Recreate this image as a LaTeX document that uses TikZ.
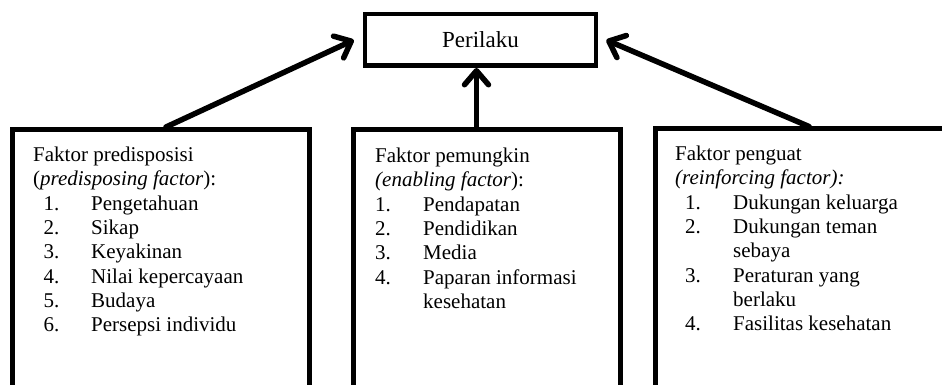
\documentclass[tikz,border=0pt]{standalone}
\usepackage{fontspec}
\setmainfont{Liberation Serif}
\usetikzlibrary{arrows.meta}
\begin{document}
\begin{tikzpicture}[x=1pt,y=-1pt,
  frame/.style={draw=black,line width=5pt,fill=white,rectangle,inner sep=0pt},
  txt/.style={anchor=base west,inner sep=0pt,font=\fontsize{21}{24.3}\selectfont},
  arr/.style={draw=black,line width=5.5pt,line cap=round,
    -{Straight Barb[length=14pt,width=24pt,line cap=round,line join=round]}}]
\useasboundingbox (0,0) rectangle (942,385);
\clip (0,0) rectangle (942,385);

% central box
\node[frame,line width=4.5pt,minimum width=231pt,minimum height=51.5pt,
  font=\fontsize{23}{27}\selectfont] (beh) at (480.5,40) {Perilaku};

% three factor boxes, running off the bottom (and the right) edge
\node[frame,anchor=north west,minimum width=297pt,minimum height=300pt] (pre) at (10,127) {};
\node[frame,anchor=north west,minimum width=267pt,minimum height=300pt] (ena) at (350.5,127) {};
\node[frame,anchor=north west,minimum width=340pt,minimum height=300pt] (rei) at (652.5,126.5) {};

% connectors
\draw[arr] ([xshift=5pt]pre.north) -- ([xshift=-9pt]beh.west);
\draw[arr] ([xshift=-10pt]ena.north) -- ([xshift=-4pt]beh.south);
\draw[arr] ([xshift=-16pt]rei.north) -- ([xshift=8pt]beh.east);

% predisposing factors
\node[txt] (p0) at (33,161.5) {Faktor predisposisi};
\node[txt] (p1) at (33,185.8) {(\textit{predisposing factor}):};
\node[txt] (p2n) at (43.5,210.1) {1.}; \node[txt] (p2) at (91,210.1) {Pengetahuan};
\node[txt] (p3n) at (43.5,234.4) {2.}; \node[txt] (p3) at (91,234.4) {Sikap};
\node[txt] (p4n) at (43.5,258.7) {3.}; \node[txt] (p4) at (91,258.7) {Keyakinan};
\node[txt] (p5n) at (43.5,283.0) {4.}; \node[txt] (p5) at (91,283.0) {Nilai kepercayaan};
\node[txt] (p6n) at (43.5,307.3) {5.}; \node[txt] (p6) at (91,307.3) {Budaya};
\node[txt] (p7n) at (43.5,331.6) {6.}; \node[txt] (p7) at (91,331.6) {Persepsi individu};

% enabling factors
\node[txt] (e0) at (375,162.5) {Faktor pemungkin};
\node[txt] (e1) at (375,186.8) {{\itshape (enabling factor}):};
\node[txt] (e2n) at (375,211.1) {1.}; \node[txt] (e2) at (423,211.1) {Pendapatan};
\node[txt] (e3n) at (375,235.4) {2.}; \node[txt] (e3) at (423,235.4) {Pendidikan};
\node[txt] (e4n) at (375,259.7) {3.}; \node[txt] (e4) at (423,259.7) {Media};
\node[txt] (e5n) at (375,284.0) {4.}; \node[txt] (e5) at (423,284.0) {Paparan informasi};
\node[txt] (e6) at (423,308.3) {kesehatan};

% reinforcing factors
\node[txt] (r0) at (675,160.5) {Faktor penguat};
\node[txt] (r1) at (675,184.8) {\textit{(reinforcing factor):}};
\node[txt] (r2n) at (685,209.1) {1.}; \node[txt] (r2) at (733,209.1) {Dukungan keluarga};
\node[txt] (r3n) at (685,233.4) {2.}; \node[txt] (r3) at (733,233.4) {Dukungan teman};
\node[txt] (r4) at (733,257.7) {sebaya};
\node[txt] (r5n) at (685,282.0) {3.}; \node[txt] (r5) at (733,282.0) {Peraturan yang};
\node[txt] (r6) at (733,306.3) {berlaku};
\node[txt] (r7n) at (685,330.6) {4.}; \node[txt] (r7) at (733,330.6) {Fasilitas kesehatan};
\end{tikzpicture}
\end{document}
